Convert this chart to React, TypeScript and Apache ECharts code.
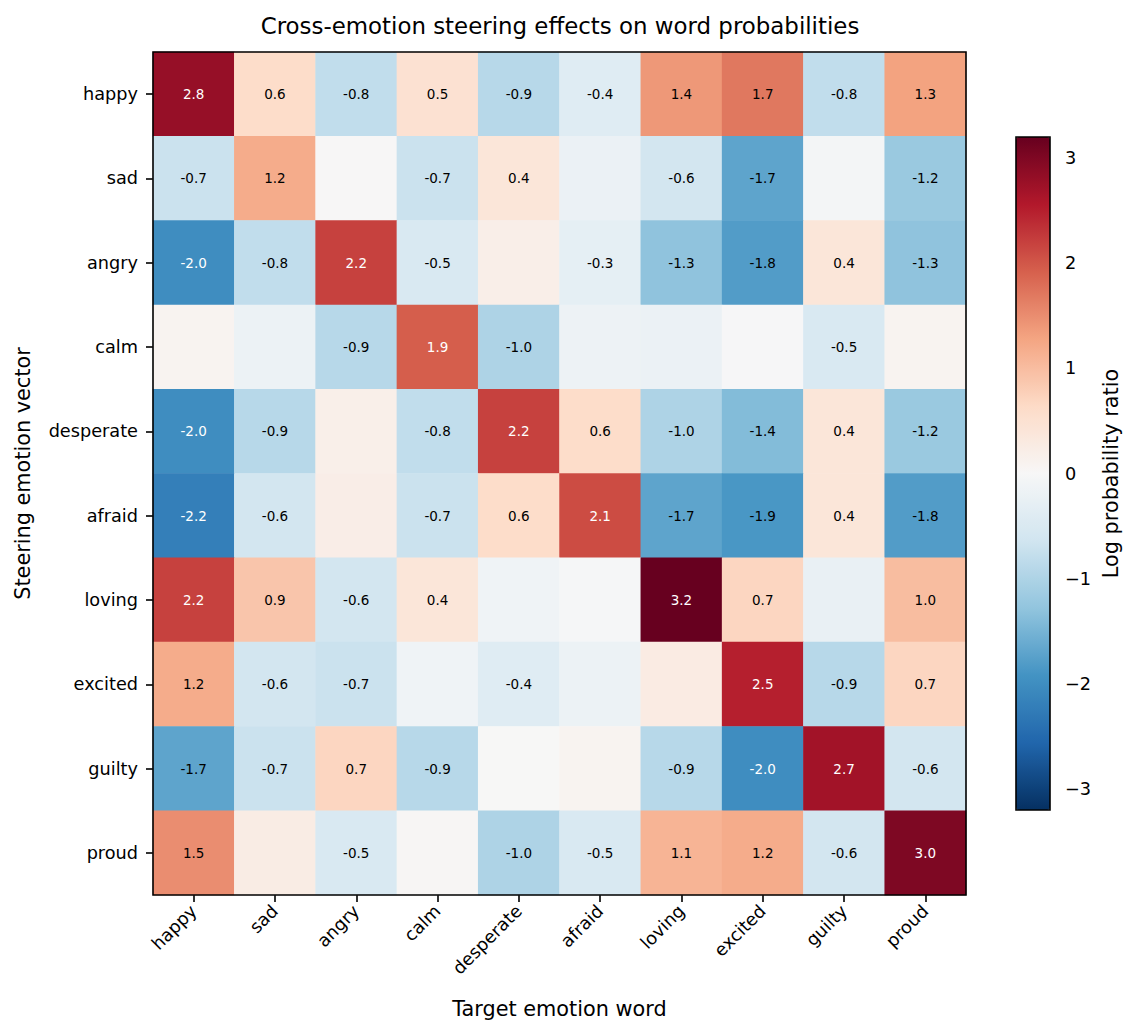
import React, { useEffect, useRef } from "react";
import * as echarts from "echarts";

// Target words (columns) and steering vectors (rows)
const targetWords = ["happy", "sad", "angry", "calm", "desperate", "afraid", "loving", "excited", "guilty", "proud"];
const steeringVectors = ["happy", "sad", "angry", "calm", "desperate", "afraid", "loving", "excited", "guilty", "proud"];

// Log probability ratio per steering vector, one value per target word
const happyRow = [2.8, 0.6, -0.8, 0.5, -0.9, -0.4, 1.4, 1.7, -0.8, 1.3];
const sadRow = [-0.7, 1.2, 0.02, -0.7, 0.4, -0.2, -0.6, -1.7, -0.07, -1.2];
const angryRow = [-2.0, -0.8, 2.2, -0.5, 0.2, -0.3, -1.3, -1.8, 0.4, -1.3];
const calmRow = [0.09, -0.19, -0.9, 1.94, -1.0, -0.17, -0.2, -0.02, -0.5, 0.1];
const desperateRow = [-2.0, -0.9, 0.19, -0.8, 2.2, 0.6, -1.0, -1.4, 0.4, -1.2];
const afraidRow = [-2.2, -0.6, 0.22, -0.7, 0.6, 2.1, -1.7, -1.87, 0.4, -1.8];
const lovingRow = [2.2, 0.9, -0.6, 0.4, -0.13, -0.03, 3.2, 0.7, -0.24, 1.0];
const excitedRow = [1.2, -0.6, -0.7, -0.13, -0.4, -0.18, 0.27, 2.5, -0.9, 0.7];
const guiltyRow = [-1.7, -0.7, 0.7, -0.9, 0.01, 0.1, -0.9, -2.0, 2.7, -0.6];
const proudRow = [1.5, 0.26, -0.5, 0.04, -1.0, -0.5, 1.1, 1.2, -0.6, 3.0];

const rows = [happyRow, sadRow, angryRow, calmRow, desperateRow, afraidRow, lovingRow, excitedRow, guiltyRow, proudRow];

// Colour scale limits and colourbar ticks
const vLimit = 3.2;
const colorbarTicks = [-3, -2, -1, 0, 1, 2, 3];

// RdBu reversed
const rdBuR = [
  "#053061", "#2166ac", "#4393c3", "#92c5de", "#d1e5f0", "#f7f7f7",
  "#fddbc7", "#f4a582", "#d6604d", "#b2182b", "#67001f",
];

const FONT = "DejaVu Sans";

export default function App() {
  const ref = useRef<HTMLDivElement>(null);

  useEffect(() => {
    document.body.style.margin = "0";
    if (!ref.current) return;
    const chart = echarts.init(ref.current, undefined, { renderer: "svg" });

    const cells: any[] = [];
    rows.forEach((row, yi) => {
      row.forEach((v, xi) => {
        cells.push({
          value: [xi, yi, v],
          label: { color: Math.abs(v) > 0.6 * vLimit ? "#ffffff" : "#000000" },
        });
      });
    });

    const tickStyle = { color: "#000", width: 1.6 };

    chart.setOption({
      animation: false,
      backgroundColor: "#ffffff",
      textStyle: { fontFamily: FONT },
      title: {
        text: "Cross-emotion steering effects on word probabilities",
        left: 555,
        top: 9,
        textAlign: "center",
        textStyle: { fontFamily: FONT, fontSize: 22.9, fontWeight: "normal", color: "#000" },
      },
      grid: [
        {
          left: 153, top: 52, width: 813, height: 843,
          show: true, borderColor: "#000", borderWidth: 1.6,
          backgroundColor: "transparent", z: 10,
        },
        {
          left: 1016, top: 137, width: 34, height: 673,
          show: true, borderColor: "#000", borderWidth: 1.6,
          backgroundColor: "transparent", z: 10,
        },
      ],
      xAxis: [
        {
          type: "category",
          gridIndex: 0,
          data: targetWords,
          position: "bottom",
          axisLine: { show: false },
          axisTick: { show: true, alignWithLabel: true, length: 7, lineStyle: tickStyle },
          axisLabel: { rotate: 45, fontSize: 17.7, color: "#000", margin: 13, fontFamily: FONT },
          splitLine: { show: false },
          name: "Target emotion word",
          nameLocation: "middle",
          nameGap: 103,
          nameTextStyle: { fontSize: 20.8, color: "#000", fontFamily: FONT },
        },
        { type: "value", gridIndex: 1, show: false, min: 0, max: 1 },
      ],
      yAxis: [
        {
          type: "category",
          gridIndex: 0,
          data: steeringVectors,
          inverse: true,
          axisLine: { show: false },
          axisTick: { show: true, alignWithLabel: true, length: 7, lineStyle: tickStyle },
          axisLabel: { fontSize: 17.7, color: "#000", margin: 15, fontFamily: FONT },
          splitLine: { show: false },
          name: "Steering emotion vector",
          nameLocation: "middle",
          nameGap: 120,
          nameRotate: 90,
          nameTextStyle: { fontSize: 20.8, color: "#000", fontFamily: FONT },
        },
        {
          type: "value",
          gridIndex: 1,
          position: "right",
          min: -vLimit,
          max: vLimit,
          axisLine: { show: false },
          axisTick: { show: true, length: 7, lineStyle: tickStyle, customValues: colorbarTicks },
          axisLabel: {
            fontSize: 17.7,
            color: "#000",
            margin: 15,
            fontFamily: FONT,
            customValues: colorbarTicks,
            formatter: (v: number) => (v < 0 ? "\u2212" + Math.abs(v) : String(v)),
          },
          splitLine: { show: false },
          name: "Log probability ratio",
          nameLocation: "middle",
          nameGap: 50,
          nameRotate: 90,
          nameTextStyle: { fontSize: 20.8, color: "#000", fontFamily: FONT },
        },
      ],
      visualMap: [
        {
          type: "continuous",
          min: -vLimit,
          max: vLimit,
          seriesIndex: 0,
          dimension: 2,
          inRange: { color: rdBuR },
          calculable: false,
          hoverLink: false,
          orient: "vertical",
          left: 1016,
          top: 137,
          itemWidth: 34,
          itemHeight: 673,
          padding: 0,
          text: null,
          show: true,
        },
      ],
      series: [
        {
          type: "heatmap",
          xAxisIndex: 0,
          yAxisIndex: 0,
          data: cells,
          itemStyle: { borderWidth: 0 },
          label: {
            show: true,
            fontSize: 13.5,
            fontFamily: FONT,
            formatter: (p: any) => {
              const v = p.value[2];
              return Math.abs(v) >= 0.3 - 1e-9 ? v.toFixed(1) : "";
            },
          },
          emphasis: { disabled: true },
        },
      ],
    });

    return () => chart.dispose();
  }, []);

  return <div ref={ref} style={{ width: 1138, height: 1033 }} />;
}
